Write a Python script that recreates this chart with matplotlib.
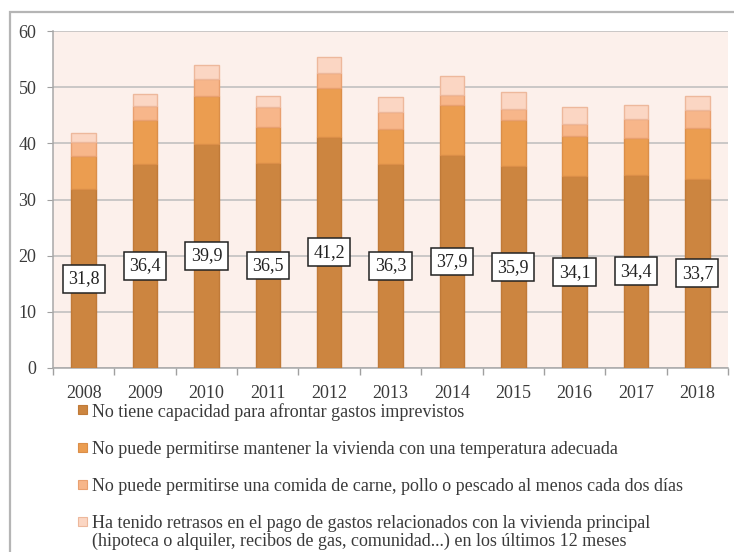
import matplotlib.pyplot as plt
from matplotlib.patches import Rectangle
import numpy as np

years = ["2008", "2009", "2010", "2011", "2012", "2013", "2014", "2015", "2016", "2017", "2018"]
imprevistos = [31.8, 36.4, 39.9, 36.5, 41.2, 36.3, 37.9, 35.9, 34.1, 34.4, 33.7]
temperatura = [6.0, 7.8, 8.5, 6.4, 8.7, 6.2, 8.9, 8.2, 7.2, 6.6, 9.1]
comida = [2.5, 2.4, 3.0, 3.6, 2.7, 3.0, 1.8, 2.0, 2.2, 3.4, 3.1]
retrasos = [1.5, 2.1, 2.5, 2.0, 2.7, 2.8, 3.4, 3.0, 3.0, 2.5, 2.5]

labels = [
    "No tiene capacidad para afrontar gastos imprevistos",
    "No puede permitirse mantener la vivienda con una temperatura adecuada",
    "No puede permitirse una comida de carne, pollo o pescado al menos cada dos días",
    "Ha tenido retrasos en el pago de gastos relacionados con la vivienda principal\n"
    "(hipoteca o alquiler, recibos de gas, comunidad...) en los últimos 12 meses",
]
colors = ["#CC8540", "#EB9D50", "#F7B68A", "#FBD6C3"]
edges = ["#C07A38", "#DB8E48", "#E9A070", "#EDB89C"]

plt.rcParams['font.family'] = ['Liberation Serif', 'DejaVu Serif']
txt = "#3A3A3A"

W, H = 734, 552
fig = plt.figure(figsize=(W / 100, H / 100), dpi=100)

def fx(px):
    return px / W

def fy(py):
    return 1 - py / H

# outer frame (runs past right and bottom edges)
fig.patches.append(Rectangle((fx(10), fy(600)), 1.2, fy(12) - fy(600),
                             transform=fig.transFigure, fill=False,
                             edgecolor="#B5B5B5", linewidth=1.6))

ax = fig.add_axes([fx(53), fy(368), fx(728) - fx(53), fy(31) - fy(368)])
ax.set_facecolor("#FCF0EB")

x = np.arange(len(years))
series = [imprevistos, temperatura, comida, retrasos]
bottom = np.zeros(len(years))
for vals, c, e in zip(series, colors, edges):
    ax.bar(x, vals, width=0.4, bottom=bottom, color=c, edgecolor=e, linewidth=1.0, zorder=3)
    bottom += np.array(vals)

for xi, v in zip(x, imprevistos):
    ax.text(xi, v / 2, f"{v:.1f}".replace(".", ","), ha="center", va="center",
            fontsize=13, color="#222222", zorder=5,
            bbox=dict(boxstyle="square,pad=0.3", facecolor="white",
                      edgecolor="#222222", linewidth=1.1))

ax.set_xlim(-0.5, len(years) - 0.5)
ax.set_ylim(0, 60)
ax.set_yticks(range(0, 61, 10))
ax.yaxis.grid(True, color="#BDBDBD", linewidth=1.1, zorder=0)
ax.set_axisbelow(True)

ax.set_xticks(x)
ax.set_xticklabels(years)
ax.set_xticks(np.arange(-0.5, len(years), 1), minor=True)
ax.tick_params(axis="x", which="major", length=0, pad=12, labelsize=13, labelcolor=txt)
ax.tick_params(axis="x", which="minor", length=5, color="#A0A0A0", width=1)
ax.tick_params(axis="y", length=4, pad=8, labelsize=13, labelcolor=txt, color="#A0A0A0")

for s in ["top", "right"]:
    ax.spines[s].set_visible(False)
for s in ["left", "bottom"]:
    ax.spines[s].set_color("#A8A8A8")
    ax.spines[s].set_linewidth(1.1)

# legend
rows = [411, 449, 486, 523]
for lab, c, e, r in zip(labels, colors, edges, rows):
    fig.patches.append(Rectangle((fx(78), fy(r + 3)), fx(87) - fx(78), fy(r - 6) - fy(r + 3),
                                 transform=fig.transFigure, facecolor=c,
                                 edgecolor=e, linewidth=0.8))
    fig.text(fx(92), fy(r - 8), lab, ha="left", va="top", fontsize=13,
             color=txt, linespacing=1.05)

fig.savefig("out.png", dpi=100)
